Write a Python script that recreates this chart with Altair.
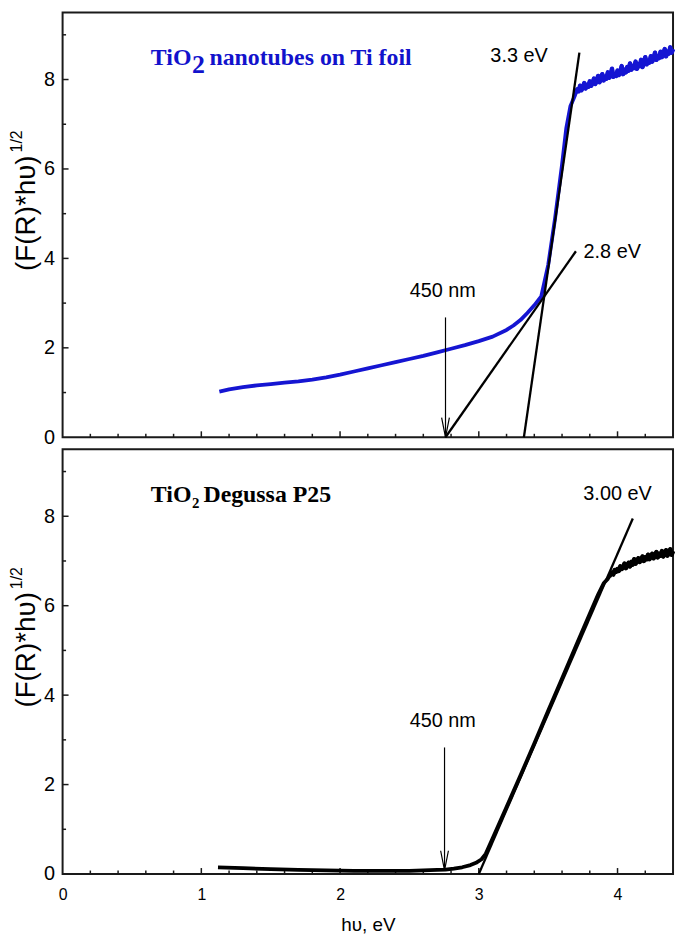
import altair as alt
import pandas as pd

W, H = 615, 428

# ---- axes ----
x_labels = [0, 1, 2, 3, 4]
x_major = [1, 2, 3, 4]
x_minor = [0.2, 0.4, 0.6, 0.8, 1.2, 1.4, 1.6, 1.8, 2.2, 2.4, 2.6, 2.8, 3.2, 3.4, 3.6, 3.8, 4.2]
y_labels = [0, 2, 4, 6, 8]
y_major = [2, 4, 6, 8]
y_minor = [1, 3, 5, 7, 9]

# ---- top panel: TiO2 nanotubes on Ti foil ----
top_x = [1.13, 1.2, 1.3, 1.4, 1.5, 1.6, 1.7, 1.8, 1.9, 2.0, 2.1, 2.2, 2.3, 2.4, 2.5, 2.6, 2.7,
         2.8, 2.9, 3.0, 3.1, 3.2, 3.25, 3.3, 3.35, 3.4, 3.45, 3.5, 3.55, 3.6, 3.63, 3.66, 3.69,
         3.70, 3.71, 3.72, 3.73, 3.74, 3.75, 3.76, 3.77, 3.78, 3.79, 3.80, 3.81, 3.82, 3.83,
         3.84, 3.85, 3.86, 3.87, 3.88, 3.89, 3.90, 3.91, 3.92, 3.93, 3.94, 3.95, 3.96, 3.97,
         3.98, 3.99, 4.00, 4.01, 4.02, 4.03, 4.04, 4.05, 4.06, 4.07, 4.08, 4.09, 4.10, 4.11,
         4.12, 4.13, 4.14, 4.15, 4.16, 4.17, 4.18, 4.19, 4.20, 4.21, 4.22, 4.23, 4.24, 4.25,
         4.26, 4.27, 4.28, 4.29, 4.30, 4.31, 4.32, 4.33, 4.34, 4.35, 4.36, 4.37, 4.38, 4.39,
         4.40]
top_y = [1.02, 1.07, 1.12, 1.16, 1.19, 1.22, 1.25, 1.29, 1.34, 1.40, 1.47, 1.54, 1.61, 1.68, 1.75,
         1.82, 1.90, 1.98, 2.06, 2.15, 2.25, 2.40, 2.50, 2.62, 2.78, 2.95, 3.15, 3.85, 4.90, 6.10,
         6.90, 7.40, 7.62,
         7.70, 7.78, 7.74, 7.86, 7.76, 7.82, 7.92, 7.80, 7.88, 7.84, 7.96, 7.86, 7.92, 8.02,
         7.90, 7.98, 8.08, 7.94, 8.00, 8.12, 7.98, 8.06, 8.02, 8.16, 8.04, 8.10, 8.24, 8.06,
         8.12, 8.08, 8.20, 8.10, 8.18, 8.30, 8.12, 8.22, 8.16, 8.28, 8.20, 8.36, 8.22, 8.30,
         8.26, 8.40, 8.24, 8.34, 8.30, 8.44, 8.28, 8.38, 8.50, 8.34, 8.42, 8.38, 8.52, 8.40,
         8.48, 8.60, 8.44, 8.52, 8.48, 8.62, 8.50, 8.58, 8.68, 8.52, 8.62, 8.58, 8.72, 8.60,
         8.68]

# ---- bottom panel: TiO2 Degussa P25 ----
bot_x = [1.12, 1.3, 1.5, 1.7, 1.9, 2.1, 2.3, 2.5, 2.6, 2.7, 2.76, 2.82, 2.88, 2.94, 2.98, 3.02,
         3.05, 3.1, 3.2, 3.3, 3.4, 3.5, 3.6, 3.7, 3.8, 3.86, 3.9, 3.93,
         3.94, 3.95, 3.96, 3.97, 3.98, 3.99, 4.00, 4.01, 4.02, 4.03, 4.04, 4.05, 4.06, 4.07,
         4.08, 4.09, 4.10, 4.11, 4.12, 4.13, 4.14, 4.15, 4.16, 4.17, 4.18, 4.19, 4.20, 4.21,
         4.22, 4.23, 4.24, 4.25, 4.26, 4.27, 4.28, 4.29, 4.30, 4.31, 4.32, 4.33, 4.34, 4.35,
         4.36, 4.37, 4.38, 4.39, 4.40]
bot_y = [0.15, 0.13, 0.11, 0.09, 0.08, 0.07, 0.07, 0.07, 0.08, 0.09, 0.10, 0.12, 0.15, 0.20, 0.25,
         0.33, 0.45, 0.80, 1.50, 2.20, 2.92, 3.65, 4.37, 5.10, 5.82, 6.25, 6.50, 6.60,
         6.65, 6.70, 6.74, 6.70, 6.80, 6.76, 6.82, 6.78, 6.88, 6.82, 6.86, 6.94, 6.84, 6.90,
         6.96, 6.88, 6.98, 6.92, 7.04, 6.94, 7.00, 7.06, 6.98, 7.04, 7.10, 7.00, 7.08, 7.04,
         7.14, 7.04, 7.10, 7.16, 7.06, 7.12, 7.20, 7.08, 7.16, 7.12, 7.22, 7.10, 7.18, 7.24,
         7.12, 7.20, 7.26, 7.14, 7.22]

# ---- tangent lines ----
top_tan1_x, top_tan1_y = [3.325, 3.725], [0.0, 8.6]
top_tan2_x, top_tan2_y = [2.76, 3.70], [0.0, 4.16]
bot_tan_x, bot_tan_y = [3.0, 4.11], [0.0, 7.95]

# ---- 450 nm arrows ----
arrow_x = [2.76, 2.753]
arrow_top = [2.68, 2.83]
arrow_tip = [0.0, 0.08]
head_h, head_w = 0.44, 0.028

# ---- annotation labels ----
top_labels = ["3.3 eV", "450 nm"]
top_label_x = [3.29, 2.74]
top_label_y = [8.52, 3.26]
top_label2 = "2.8 eV"
top_label2_xy = [3.755, 4.14]
bot_labels = ["3.00 eV", "450 nm"]
bot_label_x = [4.0, 2.74]
bot_label_y = [8.5, 3.42]

xs = alt.Scale(domain=[0, 4.4], nice=False, zero=False)
ys = alt.Scale(domain=[0, 9.5], nice=False, zero=False)
FONT = "Liberation Sans"
SERIF = "Liberation Serif"

x_axis_bottom = alt.Axis(values=x_labels, format="d", ticks=False, tickSize=0, domain=False,
                         grid=False, labelFontSize=16, labelFont=FONT, labelColor="#000",
                         labelPadding=13, labelFlush=False, title="hυ, eV", titleFontSize=19,
                         titleFont=FONT, titleFontWeight="normal", titleColor="#000",
                         titlePadding=13)
y_axis = alt.Axis(values=y_labels, ticks=False, tickSize=0, domain=False, grid=False,
                  labelFontSize=20, labelFont=FONT, labelColor="#000", labelPadding=8,
                  labelFlush=False, title=None)


def panel(cx, cy, color, plateau_from, tangents, ai, labels, lx, ly, extra_label, title_parts, bottom):
    xa = x_axis_bottom if bottom else None

    def X(f):
        return alt.X(f, type="quantitative", scale=xs, axis=xa)

    def Y(f):
        return alt.Y(f, type="quantitative", scale=ys, axis=y_axis)

    layers = []
    # ticks (inward)
    layers.append(alt.Chart(pd.DataFrame({"v": x_major})).mark_rule(color="#1a1a1a", strokeWidth=1.5)
                  .encode(x=X("v"), y=alt.value(H), y2=alt.value(H - 6)))
    layers.append(alt.Chart(pd.DataFrame({"v": x_minor})).mark_rule(color="#1a1a1a", strokeWidth=1.5)
                  .encode(x=X("v"), y=alt.value(H), y2=alt.value(H - 3.5)))
    layers.append(alt.Chart(pd.DataFrame({"v": y_major})).mark_rule(color="#1a1a1a", strokeWidth=1.5)
                  .encode(y=Y("v"), x=alt.value(0), x2=alt.value(6)))
    layers.append(alt.Chart(pd.DataFrame({"v": y_minor})).mark_rule(color="#1a1a1a", strokeWidth=1.5)
                  .encode(y=Y("v"), x=alt.value(0), x2=alt.value(3.5)))
    # curve (noisy plateau drawn a little heavier)
    curve = pd.DataFrame({"x": cx, "y": cy})
    layers.append(alt.Chart(curve).mark_line(color=color, strokeWidth=3.8, strokeJoin="round")
                  .encode(x=X("x"), y=Y("y")))
    layers.append(alt.Chart(curve).transform_filter(alt.datum.x >= plateau_from)
                  .mark_line(color=color, strokeWidth=4.5, strokeJoin="round")
                  .encode(x=X("x"), y=Y("y")))
    # tangents
    for tx, ty in tangents:
        layers.append(alt.Chart(pd.DataFrame({"x": tx, "y": ty})).mark_line(
            color="#000", strokeWidth=2.3).encode(x=X("x"), y=Y("y")))
    # arrow
    ax, at, ap = arrow_x[ai], arrow_top[ai], arrow_tip[ai]
    layers.append(alt.Chart(pd.DataFrame({"x": [ax], "y": [at], "y2": [ap]})).mark_rule(
        color="#000", strokeWidth=1.2).encode(x=X("x"), y=Y("y"), y2="y2"))
    layers.append(alt.Chart(pd.DataFrame({"x": [ax - head_w, ax, ax + head_w],
                                          "y": [ap + head_h, ap, ap + head_h]})).mark_line(
        color="#000", strokeWidth=1.2).encode(x=X("x"), y=Y("y")))
    # labels
    layers.append(alt.Chart(pd.DataFrame({"x": lx, "y": ly, "t": labels})).mark_text(
        font=FONT, fontSize=20, color="#000", align="center", baseline="middle")
        .encode(x=X("x"), y=Y("y"), text="t"))
    if extra_label is not None:
        t, (ex, ey) = extra_label
        layers.append(alt.Chart(pd.DataFrame({"x": [ex], "y": [ey], "t": [t]})).mark_text(
            font=FONT, fontSize=20, color="#000", align="left", baseline="middle")
            .encode(x=X("x"), y=Y("y"), text="t"))
    # panel title pieces
    for (t, dx, dy, fs, tcolor, tx0, ty0) in title_parts:
        layers.append(alt.Chart(pd.DataFrame({"x": [tx0], "y": [ty0], "t": [t]})).mark_text(
            font=SERIF, fontSize=fs, fontWeight="bold", color=tcolor, align="left",
            baseline="alphabetic", dx=dx, dy=dy).encode(x=X("x"), y=Y("y"), text="t"))
    # y-axis title with superscript
    layers.append(alt.Chart(pd.DataFrame({"t": ["(F(R)*hυ)"]})).mark_text(
        font=FONT, fontSize=28, color="#000", angle=270, align="right", baseline="middle")
        .encode(x=alt.value(-36), y=alt.value(144), text="t"))
    layers.append(alt.Chart(pd.DataFrame({"t": ["1/2"]})).mark_text(
        font=FONT, fontSize=16, color="#000", angle=270, align="left", baseline="middle")
        .encode(x=alt.value(-46), y=alt.value(141), text="t"))
    return alt.layer(*layers).properties(width=W, height=H)


BLUE = "#1515d2"
TBLUE = "#1212cc"
top_title = [("TiO", 0, 0, 24, TBLUE, 0.636, 8.32),
             ("2", 41.4, 8, 26, TBLUE, 0.636, 8.32),
             ("nanotubes on Ti foil", 59, 0, 24, TBLUE, 0.636, 8.32)]
bot_title = [("TiO", 0, 0, 24, "#000", 0.636, 8.33),
             ("2", 41.6, 7, 15, "#000", 0.636, 8.33),
             ("Degussa P25", 53, 0, 24, "#000", 0.636, 8.33)]

top = panel(top_x, top_y, BLUE, 3.70, [(top_tan1_x, top_tan1_y), (top_tan2_x, top_tan2_y)], 0,
            top_labels, top_label_x, top_label_y, (top_label2, top_label2_xy), top_title, False)
bottom = panel(bot_x, bot_y, "#000", 3.94, [(bot_tan_x, bot_tan_y)], 1,
               bot_labels, bot_label_x, bot_label_y, None, bot_title, True)

chart = alt.vconcat(top, bottom, spacing=0).properties(
    padding={"left": 0, "top": 0, "right": 0, "bottom": 0}
).configure_view(stroke="#1a1a1a", strokeWidth=2)

chart.save("out.html", embed_options={"renderer": "svg", "actions": False})
